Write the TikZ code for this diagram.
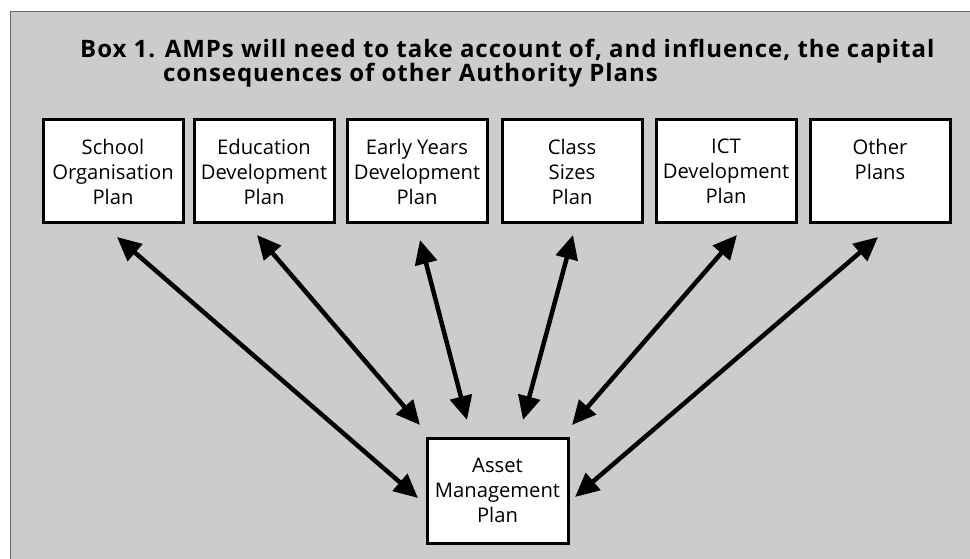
\documentclass[tikz,border=0pt]{standalone}
\usepackage{fontspec}
\setmainfont{Open Sans}
\usetikzlibrary{arrows.meta}
\begin{document}
\begin{tikzpicture}[x=1pt,y=-1pt,
  planbox/.style={draw=black,line width=3pt,fill=white,minimum width=140pt,minimum height=103pt,
    align=center,inner sep=0pt,font=\fontsize{20.2}{25}\selectfont},
  link/.style={line width=4.5pt,{Triangle[length=24pt,width=22pt]}-{Triangle[length=24pt,width=22pt]}},
  titletext/.style={font=\fontsize{24}{25}\selectfont\bfseries\addfontfeature{LetterSpace=4},inner sep=0pt}]
\useasboundingbox (0,0) rectangle (970,559);
\fill[black!20] (10,12) rectangle (970,559);
\draw[black!60,line width=1pt] (10,559) -- (10,12) -- (970,12);
\node[titletext,anchor=base west] (t1) at (80,58) {Box 1. AMPs will need to take account of, and influence, the capital};
\node[titletext,anchor=base west] (t2) at (163,82) {consequences of other Authority Plans};
\node[planbox] (b1) at (113,171.5) {School\\Organisation\\Plan};
\node[planbox] (b2) at (264,171.5) {Education\\Development\\Plan};
\node[planbox] (b3) at (417,171.5) {Early Years\\Development\\Plan};
\node[planbox] (b4) at (572,171.5) {Class\\Sizes\\Plan};
\node[planbox] (b5) at (726,171.5) {ICT\\Development\\Plan};
\node[planbox] (b6) at (880,171.5) {Other\\Plans\\\mbox{}};
\node[planbox,minimum width=141pt,minimum height=105pt] (amp) at (497.5,490.5) {Asset\\Management\\Plan};
\coordinate (u1) at (117,237); \coordinate (d1) at (418,498);
\coordinate (u2) at (257,235); \coordinate (d2) at (420,425);
\coordinate (u3) at (420,240); \coordinate (d3) at (467,420);
\coordinate (u4) at (573,235); \coordinate (d4) at (523,420);
\coordinate (u5) at (737,235); \coordinate (d5) at (572,425);
\coordinate (u6) at (878,237); \coordinate (d6) at (575,497);
\foreach \i in {1,...,6} {\draw[link] (u\i) -- (d\i);}
\end{tikzpicture}
\end{document}
